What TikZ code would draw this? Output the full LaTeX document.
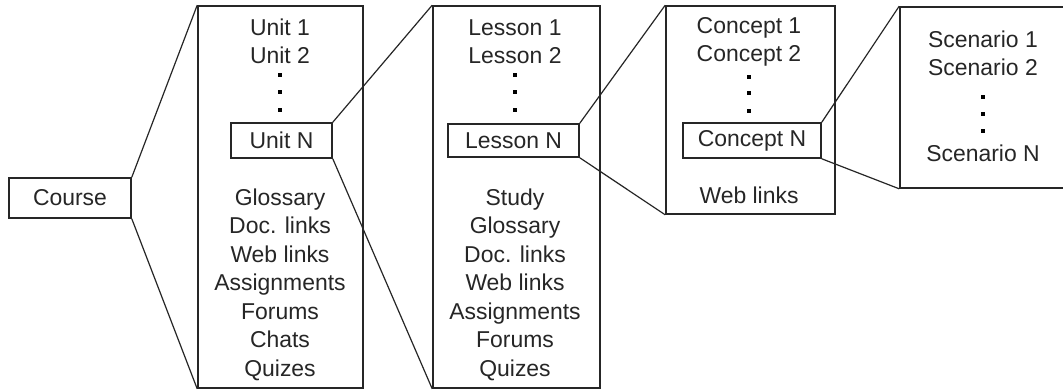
\documentclass[tikz,border=0pt]{standalone}
\usepackage{fontspec}
\setmainfont{Liberation Sans}
\begin{document}
\begin{tikzpicture}[x=0.75pt,y=-0.75pt,
  box/.style={draw=black!85, line width=1.2pt, inner sep=0pt, fill=white},
  txt/.style={anchor=base, inner sep=0pt, text=black!85, font=\fontsize{17.2}{21}\selectfont},
  dotsq/.style={fill=black, minimum size=3pt, inner sep=0pt},
  link/.style={draw=black!85, line width=0.9pt}]
\useasboundingbox[fill=white] (0,0) rectangle (1063,390);
% frames
\node[box, minimum width=123.75pt, minimum height=286.5pt] (unit) at (280.5,197) {};
\node[box, minimum width=125.25pt, minimum height=286.5pt] (lesson) at (516.5,197) {};
\node[box, minimum width=126.75pt, minimum height=156pt] (concept) at (750.5,110) {};
\node[box, minimum width=135pt, minimum height=135.75pt] (scen) at (990,97.5) {};
% inner boxes
\node[box, txt, anchor=center, minimum width=91.5pt, minimum height=30pt] (course) at (70,198) {Course};
\node[box, txt, anchor=center, minimum width=75.75pt, minimum height=26.25pt] (unitN) at (281.5,140.5) {Unit N};
\node[box, txt, anchor=center, minimum width=98.25pt, minimum height=24.75pt] (lessonN) at (513.5,140.5) {Lesson N};
\node[box, txt, anchor=center, minimum width=103.5pt, minimum height=26.25pt] (conceptN) at (752,140.5) {Concept N};
% connectors
\draw[link] (course.north east) -- (unit.north west);
\draw[link] (course.south east) -- (unit.south west);
\draw[link] (unitN.north east) -- (lesson.north west);
\draw[link] (unitN.south east) -- (lesson.south west);
\draw[link] (lessonN.north east) -- (concept.north west);
\draw[link] (lessonN.south east) -- (concept.south west);
\draw[link] (conceptN.north east) -- (scen.north west);
\draw[link] (conceptN.south east) -- (scen.south west);
% unit texts
\node[txt] (u1) at (280,35) {Unit 1};
\node[txt] (u2) at (280,63) {Unit 2};
\foreach \y [count=\i] in {75,92,110} \node[dotsq] (ud\i) at (280,\y) {};
\foreach \t [count=\i] in {Glossary,Doc. links,Web links,Assignments,Forums,Chats,Quizes}
  \node[txt] (ul\i) at (280,{205+28.5*(\i-1)}) {\t};
% lesson texts
\node[txt] (l1) at (515,35) {Lesson 1};
\node[txt] (l2) at (515,63) {Lesson 2};
\foreach \y [count=\i] in {75,92,110} \node[dotsq] (ld\i) at (515,\y) {};
\foreach \t [count=\i] in {Study,Glossary,Doc. links,Web links,Assignments,Forums,Quizes}
  \node[txt] (ll\i) at (515,{205+28.5*(\i-1)}) {\t};
% concept texts
\node[txt] (c1) at (749,33) {Concept 1};
\node[txt] (c2) at (749,61) {Concept 2};
\foreach \y [count=\i] in {77,93,111} \node[dotsq] (cd\i) at (749,\y) {};
\node[txt] (cw) at (749,203) {Web links};
% scenario texts
\node[txt] (s1) at (983,47) {Scenario 1};
\node[txt] (s2) at (983,75) {Scenario 2};
\foreach \y [count=\i] in {97,114,131} \node[dotsq] (sd\i) at (983,\y) {};
\node[txt] (sN) at (983,161) {Scenario N};
\end{tikzpicture}
\end{document}
